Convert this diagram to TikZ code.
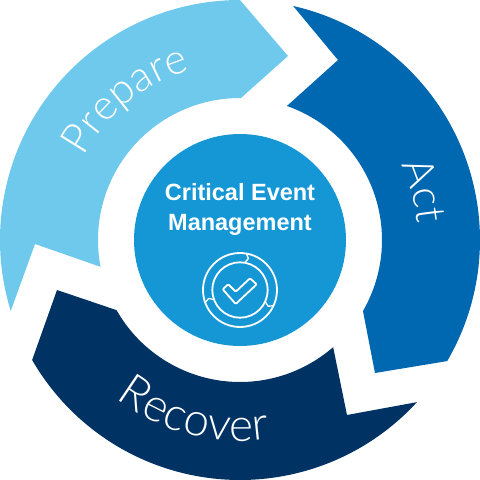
\documentclass[tikz,border=0pt]{standalone}
\usepackage{fontspec}
\usetikzlibrary{decorations.text}
\setmainfont{Liberation Sans}
\newfontfamily\lightfont{Lato Light}
\definecolor{prepc}{HTML}{6FC9EC}
\definecolor{actc}{HTML}{0067B1}
\definecolor{recc}{HTML}{003263}
\definecolor{corec}{HTML}{1697D5}
\tikzset{
  phasetext/.style 2 args={decorate,decoration={text along path,text align=left,
    text color=white,text={|\lightfont\fontsize{#1}{#1}\selectfont|#2}}},
  iconline/.style={draw=white,line width=1.8pt,line join=round},
  titletext/.style={text=white,align=center,font=\bfseries\fontsize{23.5}{30}\selectfont,inner sep=0pt}
}
\begin{document}
\begin{tikzpicture}[x=1pt,y=1pt]
\useasboundingbox (-240,-240) rectangle (240,240);
% phases
\fill[prepc] (90:240) -- (48,184) -- (1,142) -- (90:142)
  arc[start angle=90,end angle=190.9,radius=142pt] -- (-205,-4) -- (197.2:240)
  arc[start angle=197.2,end angle=90,radius=240pt] -- cycle;
\fill[actc] (77.2:240) -- (98,180) -- (70.7:142)
  arc[start angle=70.7,end angle=-30,radius=142pt] -- (135,-133) -- (-30.3:240)
  arc[start angle=-30.3,end angle=77.2,radius=240pt] -- cycle;
\fill[recc] (-183,-50) -- (209.6:142)
  arc[start angle=209.6,end angle=311,radius=142pt] -- (107,-175) -- (-42.5:240)
  arc[start angle=-42.5,end angle=-150,radius=240pt] -- cycle;
\fill[corec] (0,0) circle[radius=106pt];
% phase labels
\path[phasetext={42}{Prepare}] (152:177) arc[start angle=152,end angle=95,radius=177pt];
\path[phasetext={42}{Act}] (25:178) arc[start angle=25,end angle=-10,radius=178pt];
\path[phasetext={46}{Recover}] (232:201) arc[start angle=232,end angle=295,radius=201pt];
% title
\node[titletext] (title) at (0,31) {Critical Event\\Management};
% icon
\begin{scope}[shift={(0,-50)}]
\draw[iconline] (0,0) circle[radius=37pt];
\draw[iconline] (0,0) circle[radius=27.7pt];
\foreach \a in {80,-25,200}{
  \draw[iconline,line width=1.3pt] (\a:37) -- (\a-5:32.5) -- (\a:28);
}
\end{scope}
\draw[iconline,rounded corners=1pt] (-17.3,-49.3) -- (-11.7,-44.3) -- (-4.3,-51.7) -- (10,-38.3) -- (16.7,-44.3) -- (-4.3,-64) -- cycle;
\end{tikzpicture}
\end{document}
